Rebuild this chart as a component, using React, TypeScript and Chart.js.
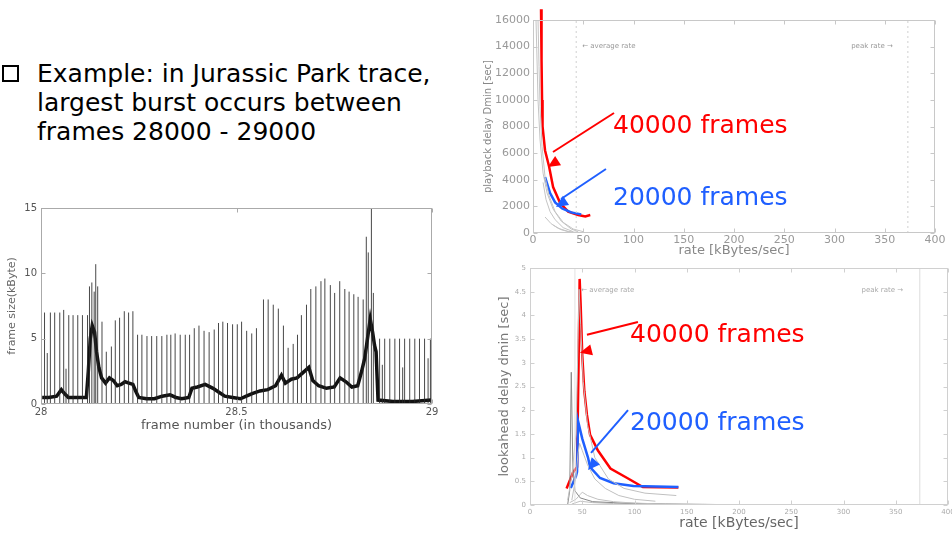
import React, { useEffect, useRef } from "react";
import { Chart, registerables } from "chart.js";

Chart.register(...registerables);

const SLIDE_FONT = '"DejaVu Sans", Verdana, sans-serif';

// ---------------- slide text ----------------
const BULLET_LINES = [
  "Example: in Jurassic Park trace,",
  "largest burst occurs between",
  "frames 28000 - 29000",
];

// ---------------- left chart: frame size trace ----------------
const TRACE_X_MIN = 28;
const TRACE_X_MAX = 29;
const TRACE_X_STEP = 0.5;
const TRACE_Y_MAX = 15;
const TRACE_Y_STEP = 5;
const TRACE_X_TITLE = "frame number (in thousands)";
const TRACE_Y_TITLE = "frame size(kByte)";

const SPIKE_POS = [
  28.009, 28.016, 28.024, 28.035, 28.048, 28.058, 28.064, 28.071, 28.082, 28.094, 28.106, 28.119,
  28.124, 28.13, 28.136, 28.14, 28.145,
  28.156, 28.167, 28.18, 28.19, 28.201, 28.213, 28.224, 28.235,
  28.247, 28.258, 28.271, 28.283, 28.296, 28.309, 28.322, 28.332, 28.343, 28.356, 28.369, 28.38,
  28.392, 28.404, 28.417, 28.43, 28.443, 28.454, 28.465, 28.477, 28.49, 28.502, 28.513,
  28.526, 28.539, 28.551, 28.569, 28.581, 28.594, 28.607, 28.62, 28.632,
  28.645, 28.656, 28.666, 28.679, 28.69, 28.703, 28.716, 28.726, 28.74, 28.751, 28.764, 28.777, 28.788, 28.8, 28.811, 28.824,
  28.832, 28.837, 28.845, 28.85,
  28.866, 28.873, 28.879, 28.892, 28.905, 28.917, 28.925, 28.93, 28.943, 28.956, 28.968, 28.981, 28.99, 28.996,
];
const SPIKE_KB = [
  7.0, 3.9, 7.0, 7.0, 7.0, 7.2, 2.7, 6.8, 6.8, 6.8, 6.8, 6.8,
  9.0, 9.3, 8.6, 10.7, 9.0,
  6.3, 4.0, 4.4, 6.4, 6.6, 7.1, 7.0, 7.1,
  5.3, 5.3, 5.2, 5.2, 5.2, 5.2, 5.3, 5.3, 5.4, 5.3, 5.3, 5.3,
  5.8, 6.0, 5.6, 5.5, 5.7, 6.2, 6.3, 6.2, 6.1, 6.1, 6.3,
  5.6, 5.4, 5.8, 8.0, 8.0, 7.6, 7.3, 6.0, 4.3,
  4.6, 5.3, 6.8, 7.6, 8.8, 9.0, 9.4, 9.6, 9.1, 8.5, 9.4, 8.8, 8.6, 8.4, 8.2, 8.0,
  12.8, 11.6, 15.0, 8.5,
  5.0, 3.0, 5.0, 5.0, 5.0, 5.0, 2.8, 5.0, 5.0, 5.0, 5.0, 5.0, 3.5, 5.0,
];
const BASE_POS = [
  28.003, 28.02, 28.04, 28.052, 28.06, 28.07, 28.085, 28.1, 28.116, 28.121, 28.126, 28.131, 28.137,
  28.142, 28.148, 28.155, 28.165, 28.175, 28.185, 28.195, 28.205, 28.215, 28.225, 28.235, 28.242,
  28.25, 28.27, 28.29, 28.31, 28.33, 28.345, 28.36, 28.378, 28.386, 28.4, 28.42, 28.44, 28.455,
  28.47, 28.49, 28.51, 28.525, 28.54, 28.56, 28.58, 28.6, 28.615, 28.625, 28.64, 28.655, 28.67,
  28.685, 28.695, 28.71, 28.73, 28.75, 28.765, 28.78, 28.795, 28.81, 28.82, 28.828, 28.835, 28.842,
  28.848, 28.853, 28.857, 28.862, 28.9, 28.95, 28.998,
];
const BASE_KB = [
  0.5, 0.5, 0.6, 1.1, 0.8, 0.5, 0.5, 0.5, 0.5, 2.5, 5.0, 6.0, 5.5,
  4.0, 2.8, 2.0, 1.6, 2.0, 1.8, 1.4, 1.5, 1.7, 1.6, 1.5, 1.0,
  0.5, 0.4, 0.4, 0.6, 0.7, 0.5, 0.4, 0.5, 1.2, 1.3, 1.5, 1.2, 0.9,
  0.6, 0.5, 0.4, 0.6, 0.8, 1.0, 1.1, 1.4, 2.2, 1.6, 1.9, 2.0, 2.4,
  2.8, 1.8, 1.4, 1.2, 1.3, 2.0, 1.7, 1.3, 1.4, 2.5, 3.5, 5.0, 6.5,
  5.5, 4.5, 4.0, 0.3, 0.2, 0.2, 0.3,
];

// ---------------- shared rate axis ----------------
const RATE_MAX = 400;
const RATE_STEP = 50;
const AVG_RATE = 43;
const PEAK_RATE = 373;
const RATE_TITLE = "rate [kBytes/sec]";
const AVG_LABEL = "\u2190 average rate";
const PEAK_LABEL = "peak rate \u2192";
const LABEL_40K = "40000 frames";
const LABEL_20K = "20000 frames";

// ---------------- upper right: playback delay ----------------
const PB_DELAY_MAX = 16000;
const PB_DELAY_STEP = 2000;
const PB_Y_TITLE = "playback delay Dmin [sec]";
const PB_40K_RATE = [8, 8.5, 9, 9.5, 12, 16, 20, 27, 35, 45, 52, 57];
const PB_40K_DELAY = [16800, 13000, 10000, 8000, 6200, 5000, 3450, 2250, 1600, 1350, 1250, 1350];
const PB_20K_RATE = [12, 17, 22, 29, 38, 48];
const PB_20K_DELAY = [4200, 3000, 2300, 1850, 1550, 1400];
const PB_GRAY_RATE = [
  [3, 4, 5, 7, 10, 14, 20, 28, 38, 45],
  [5, 6, 7, 9, 12, 16, 22, 30, 40, 50],
  [10, 13, 17, 22, 30, 40],
  [12, 18, 25, 35, 45],
  [20, 28, 36, 44],
];
const PB_GRAY_DELAY = [
  [16000, 13000, 10000, 7000, 4500, 3000, 1800, 900, 300, 100],
  [16000, 12500, 9500, 6500, 4200, 2800, 1600, 800, 300, 100],
  [3800, 2500, 1600, 1000, 400, 100],
  [1200, 700, 350, 120, 20],
  [600, 250, 80, 10],
];

// ---------------- lower right: lookahead delay ----------------
const LA_DELAY_MAX = 5;
const LA_DELAY_STEP = 0.5;
const LA_Y_TITLE = "lookahead delay dmin [sec]";
const LA_40K_RATE = [35, 41, 45, 46.5, 47.5, 48.5, 50, 52, 54.5, 57.5, 65, 77, 93, 108, 142];
const LA_40K_DELAY = [0.35, 0.68, 0.8, 3.0, 4.77, 4.2, 3.16, 2.4, 1.9, 1.48, 1.15, 0.77, 0.57, 0.38, 0.37];
const LA_20K_RATE = [39, 44, 45, 46, 50, 55.5, 57.5, 67, 80, 99, 142];
const LA_20K_DELAY = [0.36, 0.61, 0.7, 1.77, 1.4, 1.0, 0.8, 0.57, 0.46, 0.4, 0.38];
const LA_GRAY_RATE = [
  [36, 40, 44, 46, 47, 48.5, 51, 55, 62, 75, 90, 110, 140],
  [40, 44, 46, 47.5, 50, 55, 62, 72, 85, 100, 120],
  [38, 44, 48, 50, 55, 65, 80, 100, 130],
  [36, 38, 39.5, 41, 43, 48, 60, 90, 130, 180],
  [40, 48, 60, 80, 120, 180],
];
const LA_GRAY_DELAY = [
  [0.1, 0.6, 1.5, 3.5, 4.55, 3.8, 2.6, 1.7, 1.0, 0.55, 0.35, 0.25, 0.2],
  [0.1, 0.6, 1.1, 1.3, 1.15, 0.85, 0.55, 0.35, 0.2, 0.12, 0.08],
  [0.05, 0.12, 0.22, 0.27, 0.2, 0.12, 0.07, 0.04, 0.02],
  [0, 0.3, 2.8, 0.8, 0.3, 0.15, 0.07, 0.04, 0.02, 0.01],
  [0.02, 0.08, 0.05, 0.03, 0.02, 0.01],
];

// ---------------- helpers ----------------
type Pt = [number, number];
interface Note { at: Pt; text: string; color: string; font: string; align?: CanvasTextAlign }
interface Arrow { from: Pt; to: Pt; tip: Pt; color: string }

const zip = (xs: number[], ys: number[]) => xs.map((x, i) => ({ x, y: ys[i] }));

function overlay(box: string, tickColor: string, notes: Note[], arrows: Arrow[]) {
  return {
    id: "overlay",
    afterDatasetsDraw(chart: any) {
      const { ctx, chartArea: a, scales } = chart;
      const xs = scales.x;
      const ys = scales.y;
      const P = (p: Pt): Pt => [xs.getPixelForValue(p[0]), ys.getPixelForValue(p[1])];
      ctx.save();
      ctx.strokeStyle = box;
      ctx.lineWidth = 1;
      const L = Math.round(a.left) + 0.5;
      const T = Math.round(a.top) + 0.5;
      const R = Math.round(a.right) - 0.5;
      const B = Math.round(a.bottom) - 0.5;
      ctx.strokeRect(L, T, R - L, B - T);
      ctx.strokeStyle = tickColor;
      ctx.beginPath();
      for (const t of xs.ticks) {
        const px = Math.round(xs.getPixelForValue(t.value)) + 0.5;
        ctx.moveTo(px, B); ctx.lineTo(px, B - 4);
        ctx.moveTo(px, T); ctx.lineTo(px, T + 4);
      }
      for (const t of ys.ticks) {
        const py = Math.round(ys.getPixelForValue(t.value)) + 0.5;
        ctx.moveTo(L, py); ctx.lineTo(L + 4, py);
        ctx.moveTo(R, py); ctx.lineTo(R - 4, py);
      }
      ctx.stroke();
      for (const ar of arrows) {
        const A = P(ar.from);
        const Bp = P(ar.to);
        const Tp = P(ar.tip);
        ctx.strokeStyle = ar.color;
        ctx.fillStyle = ar.color;
        ctx.lineWidth = 2;
        ctx.beginPath();
        ctx.moveTo(A[0], A[1]);
        ctx.lineTo(Bp[0], Bp[1]);
        ctx.stroke();
        const dx = Bp[0] - A[0];
        const dy = Bp[1] - A[1];
        const len = Math.hypot(dx, dy) || 1;
        const ux = dx / len;
        const uy = dy / len;
        const hl = 12;
        const hw = 5.5;
        const bx = Tp[0] - ux * hl;
        const by = Tp[1] - uy * hl;
        ctx.beginPath();
        ctx.moveTo(Tp[0], Tp[1]);
        ctx.lineTo(bx - uy * hw, by + ux * hw);
        ctx.lineTo(bx + uy * hw, by - ux * hw);
        ctx.closePath();
        ctx.fill();
      }
      for (const n of notes) {
        const p = P(n.at);
        ctx.font = n.font;
        ctx.fillStyle = n.color;
        ctx.textAlign = n.align ?? "left";
        ctx.textBaseline = "alphabetic";
        ctx.fillText(n.text, p[0], p[1]);
      }
      ctx.restore();
    },
  };
}

interface AxisSpec {
  min: number; max: number; step: number;
  size: number; horizontal: boolean;
  tickFont: any; tickColor: string; tickPad: number;
  title: string; titleFont: any; titleColor: string; titlePad: any;
}
function axis(s: AxisSpec) {
  return {
    type: "linear",
    min: s.min,
    max: s.max,
    grid: { display: false, drawTicks: false },
    border: { display: false },
    ticks: {
      stepSize: s.step,
      font: s.tickFont,
      color: s.tickColor,
      padding: s.tickPad,
      maxRotation: 0,
      autoSkip: false,
      callback: (v: any) => String(Math.round(Number(v) * 1000) / 1000),
    },
    title: { display: true, text: s.title, font: s.titleFont, color: s.titleColor, padding: s.titlePad },
    afterFit: (sc: any) => {
      if (s.horizontal) {
        sc.height = s.size;
        sc.paddingLeft = 0;
        sc.paddingRight = 0;
      } else {
        sc.width = s.size;
        sc.paddingTop = 0;
        sc.paddingBottom = 0;
      }
    },
  };
}

const lineDs = (data: any[], color: string, width: number, extra: any = {}) => ({
  data,
  borderColor: color,
  borderWidth: width,
  pointRadius: 0,
  tension: 0,
  fill: false,
  ...extra,
});

function ChartCanvas({ left, top, width, height, make }: { left: number; top: number; width: number; height: number; make: () => any }) {
  const ref = useRef<HTMLCanvasElement | null>(null);
  useEffect(() => {
    const chart = new Chart(ref.current as HTMLCanvasElement, make());
    return () => chart.destroy();
  }, []);
  return (
    <canvas
      ref={ref}
      width={width}
      height={height}
      style={{ position: "absolute", left, top, width, height, display: "block" }}
    />
  );
}

const baseOptions = (padding: any, x: any, y: any) => ({
  responsive: false,
  animation: false,
  events: [],
  layout: { padding },
  plugins: { legend: { display: false }, tooltip: { enabled: false } },
  scales: { x, y },
});

function makeTrace() {
  const spikes: any[] = [];
  SPIKE_POS.forEach((p, i) => {
    spikes.push({ x: p, y: 0 }, { x: p, y: SPIKE_KB[i] }, { x: p, y: null });
  });
  return {
    type: "line",
    data: {
      datasets: [
        lineDs(spikes, "rgba(40,40,40,0.85)", 1, { spanGaps: false }),
        lineDs(zip(BASE_POS, BASE_KB), "#111", 3.5),
      ],
    },
    options: baseOptions(
      { left: 0, top: 13, right: 18, bottom: 0 },
      axis({
        min: TRACE_X_MIN, max: TRACE_X_MAX, step: TRACE_X_STEP, size: 31, horizontal: true,
        tickFont: { family: SLIDE_FONT, size: 10 }, tickColor: "#555", tickPad: 2,
        title: TRACE_X_TITLE, titleFont: { family: SLIDE_FONT, size: 13 }, titleColor: "#555",
        titlePad: { top: 0, bottom: 2 },
      }),
      axis({
        min: 0, max: TRACE_Y_MAX, step: TRACE_Y_STEP, size: 41, horizontal: false,
        tickFont: { family: SLIDE_FONT, size: 10 }, tickColor: "#555", tickPad: 4,
        title: TRACE_Y_TITLE, titleFont: { family: SLIDE_FONT, size: 11 }, titleColor: "#666",
        titlePad: { top: 6, bottom: 0 },
      }),
    ),
    plugins: [overlay("#aaa", "#aaa", [], [])],
  };
}

const RED = "#ff0000";
const BLUE = "#1f5fff";
const NOTE_FONT = `25px ${SLIDE_FONT}`;
const SMALL_FONT = `7px ${SLIDE_FONT}`;

function makePlayback() {
  const grays = PB_GRAY_RATE.map((r, i) => lineDs(zip(r, PB_GRAY_DELAY[i]), "#c4c4c4", 1));
  return {
    type: "line",
    data: {
      datasets: [
        lineDs(zip([AVG_RATE, AVG_RATE], [0, PB_DELAY_MAX]), "#d0d0d0", 1, { borderDash: [2, 3] }),
        lineDs(zip([PEAK_RATE, PEAK_RATE], [0, PB_DELAY_MAX]), "#d0d0d0", 1, { borderDash: [2, 3] }),
        ...grays,
        lineDs(zip(PB_20K_RATE, PB_20K_DELAY), BLUE, 2.5),
        lineDs(zip(PB_40K_RATE, PB_40K_DELAY), RED, 2.5, { clip: false }),
      ],
    },
    options: baseOptions(
      { left: 0, top: 20, right: 17, bottom: 0 },
      axis({
        min: 0, max: RATE_MAX, step: RATE_STEP, size: 25, horizontal: true,
        tickFont: { family: SLIDE_FONT, size: 11 }, tickColor: "#999", tickPad: 1,
        title: RATE_TITLE, titleFont: { family: SLIDE_FONT, size: 13 }, titleColor: "#888",
        titlePad: { top: 0, bottom: 0 },
      }),
      axis({
        min: 0, max: PB_DELAY_MAX, step: PB_DELAY_STEP, size: 53, horizontal: false,
        tickFont: { family: SLIDE_FONT, size: 11 }, tickColor: "#999", tickPad: 3,
        title: PB_Y_TITLE, titleFont: { family: SLIDE_FONT, size: 10 }, titleColor: "#888",
        titlePad: { top: 2, bottom: 0 },
      }),
    ),
    plugins: [
      overlay(
        "#c8c8c8",
        "#c8c8c8",
        [
          { at: [AVG_RATE + 6, 13900], text: AVG_LABEL, color: "#999", font: SMALL_FONT },
          { at: [PEAK_RATE - 15, 13900], text: PEAK_LABEL, color: "#999", font: SMALL_FONT, align: "right" },
          { at: [79.6, 7500], text: LABEL_40K, color: RED, font: NOTE_FONT },
          { at: [79.6, 2100], text: LABEL_20K, color: BLUE, font: NOTE_FONT },
        ],
        [
          { from: [80.6, 9014], to: [19.9, 6085], tip: [14.9, 4958], color: RED },
          { from: [72.6, 4808], to: [27.9, 2554], tip: [22.9, 1953], color: BLUE },
        ],
      ),
    ],
  };
}

function makeLookahead() {
  const grays = LA_GRAY_RATE.map((r, i) => lineDs(zip(r, LA_GRAY_DELAY[i]), i === 3 ? "#888" : "#c0c0c0", 1));
  return {
    type: "line",
    data: {
      datasets: [
        lineDs(zip([AVG_RATE, AVG_RATE], [0, LA_DELAY_MAX]), "#e2e2e2", 1),
        lineDs(zip([PEAK_RATE, PEAK_RATE], [0, LA_DELAY_MAX]), "#dcdcdc", 1),
        ...grays,
        lineDs(zip(LA_20K_RATE, LA_20K_DELAY), BLUE, 2.5),
        lineDs(zip(LA_40K_RATE, LA_40K_DELAY), RED, 2.5, { clip: false }),
      ],
    },
    options: baseOptions(
      { left: 0, top: 10, right: 4, bottom: 0 },
      axis({
        min: 0, max: RATE_MAX, step: RATE_STEP, size: 29, horizontal: true,
        tickFont: { family: SLIDE_FONT, size: 7 }, tickColor: "#aaa", tickPad: 3,
        title: RATE_TITLE, titleFont: { family: SLIDE_FONT, size: 14 }, titleColor: "#666",
        titlePad: { top: 0, bottom: 2 },
      }),
      axis({
        min: 0, max: LA_DELAY_MAX, step: LA_DELAY_STEP, size: 50, horizontal: false,
        tickFont: { family: SLIDE_FONT, size: 7 }, tickColor: "#aaa", tickPad: 4,
        title: LA_Y_TITLE, titleFont: { family: SLIDE_FONT, size: 13 }, titleColor: "#777",
        titlePad: { top: 17, bottom: 0 },
      }),
    ),
    plugins: [
      overlay(
        "#d0d0d0",
        "#d0d0d0",
        [
          { at: [AVG_RATE + 6, 4.49], text: AVG_LABEL, color: "#aaa", font: SMALL_FONT },
          { at: [PEAK_RATE - 16, 4.49], text: PEAK_LABEL, color: "#aaa", font: SMALL_FONT, align: "right" },
          { at: [95.7, 3.44], text: LABEL_40K, color: RED, font: NOTE_FONT },
          { at: [95.7, 1.58], text: LABEL_20K, color: BLUE, font: NOTE_FONT },
        ],
        [
          { from: [103.3, 3.86], to: [54.5, 3.59], tip: [47.8, 3.21], color: RED },
          { from: [93.8, 2.0], to: [58.4, 1.1], tip: [55.5, 0.74], color: BLUE },
        ],
      ),
    ],
  };
}

export default function App() {
  return (
    <div
      style={{
        position: "absolute",
        left: 0,
        top: 0,
        width: 952,
        height: 534,
        overflow: "hidden",
        background: "#fff",
      }}
    >
      <div
        style={{
          position: "absolute",
          left: 2,
          top: 65,
          width: 17,
          height: 17,
          border: "2px solid #000",
          boxSizing: "border-box",
        }}
      />
      <div
        style={{
          position: "absolute",
          left: 37,
          top: 59,
          font: `25px ${SLIDE_FONT}`,
          lineHeight: "29px",
          color: "#000",
          whiteSpace: "pre",
        }}
      >
        {BULLET_LINES.map((l) => (
          <div key={l}>{l}</div>
        ))}
      </div>
      <ChartCanvas left={0} top={195} width={450} height={240} make={makeTrace} />
      <ChartCanvas left={480} top={0} width={472} height={258} make={makePlayback} />
      <ChartCanvas left={480} top={258} width={472} height={276} make={makeLookahead} />
    </div>
  );
}
